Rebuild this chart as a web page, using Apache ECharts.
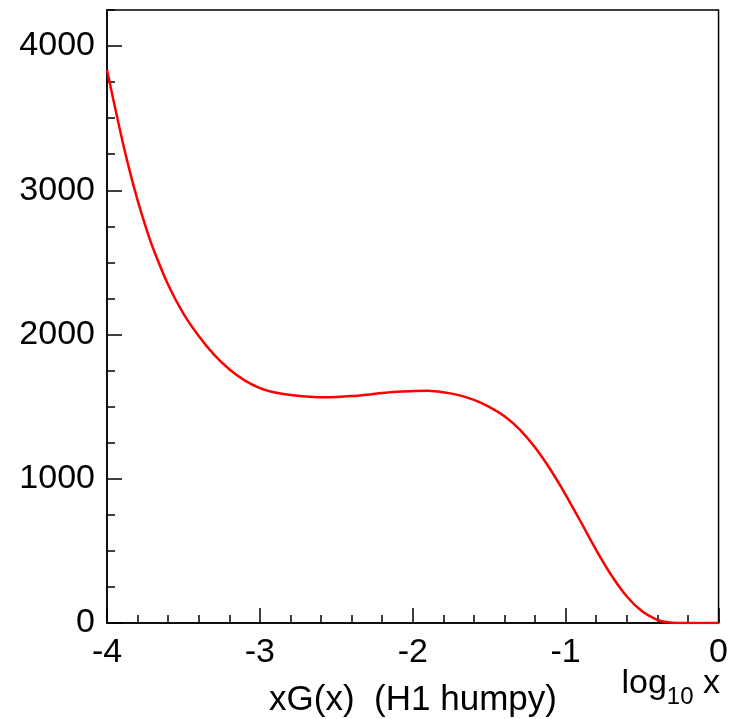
<!DOCTYPE html>
<html>
<head>
<meta charset="utf-8">
<script src="https://cdn.jsdelivr.net/npm/echarts@6/dist/echarts.min.js"></script>
<style>html,body{margin:0;padding:0;background:#fff}#c{width:731px;height:719px}</style>
</head>
<body>
<div id="c"></div>
<script>
const xValues = [-4.0,-3.95,-3.9,-3.85,-3.8,-3.75,-3.7,-3.6,-3.5,-3.4,-3.3,-3.2,-3.1,-3.0,-2.9,-2.8,-2.7,-2.6,-2.5,-2.4,-2.3,-2.2,-2.1,-2.0,-1.9,-1.8,-1.7,-1.6,-1.5,-1.4,-1.3,-1.2,-1.1,-1.0,-0.9,-0.8,-0.7,-0.6,-0.5,-0.4,-0.35,-0.3,-0.25,-0.2,-0.1,0.0];
const yValues = [3835,3586,3347,3128,2932,2757,2602,2345,2145,1990,1861,1759,1682,1629,1598,1580,1570,1565,1567,1573,1583,1595,1603,1609,1611,1600,1580,1547,1499,1433,1340,1216,1064,889,699,506,329,184,81,21,8,2,0,0,0,0];
const xTickLabels = ['-4','-3','-2','-1','0'];
const yTickLabels = ['0','1000','2000','3000','4000'];
const xTitle = 'xG(x)  (H1 humpy)';

const FONT = 'Liberation Sans, Arial, sans-serif';
const FS = 34;
const chart = echarts.init(document.getElementById('c'), null, {renderer: 'canvas'});
const data = xValues.map((x, i) => [x, yValues[i]]);
const gridRect = {left: 107, top: 10, right: 11, bottom: 96};
chart.setOption({
  animation: false,
  grid: [
    Object.assign({show: true, borderColor: '#000', borderWidth: 1.5, backgroundColor: 'transparent'}, gridRect),
    Object.assign({show: false}, gridRect)
  ],
  xAxis: [
    {type: 'value', gridIndex: 0, min: -4, max: 0, interval: 1, position: 'bottom',
     axisLine: {show: true, onZero: false, lineStyle: {color: '#000', width: 1.5}},
     axisTick: {show: true, inside: true, length: 15, lineStyle: {color: '#000', width: 1.5}},
     minorTick: {show: true, splitNumber: 5, length: 8, lineStyle: {color: '#000', width: 1.5}},
     splitLine: {show: false},
     axisLabel: {color: '#000', fontSize: FS, fontFamily: FONT, margin: 13,
       formatter: v => xTickLabels[Math.round(v + 4)]}},
    {type: 'value', gridIndex: 1, min: -4, max: 0, show: false, axisLine: {onZero: false}}
  ],
  yAxis: [
    {type: 'value', gridIndex: 0, min: 0, max: 4250, interval: 1000, position: 'left',
     axisLine: {show: true, onZero: false, lineStyle: {color: '#000', width: 1.5}},
     axisTick: {show: true, inside: true, length: 15, lineStyle: {color: '#000', width: 1.5}},
     splitLine: {show: false},
     axisLabel: {color: '#000', fontSize: FS, fontFamily: FONT, margin: 12, showMaxLabel: false,
       formatter: v => (v % 1000 === 0 ? yTickLabels[v / 1000] : '')}},
    {type: 'value', gridIndex: 1, min: 0, max: 4250, interval: 250, position: 'left',
     axisLine: {show: false, onZero: false},
     axisTick: {show: true, inside: true, length: 8, lineStyle: {color: '#000', width: 1.5}},
     splitLine: {show: false},
     axisLabel: {show: false}}
  ],
  series: [{
    type: 'line', data: data, smooth: 0.3, symbol: 'none', xAxisIndex: 0, yAxisIndex: 0,
    lineStyle: {color: '#ff0000', width: 2.5}
  }],
  graphic: [
    {type: 'text', x: 413, y: 718,
     style: {text: xTitle, fill: '#000', font: '35px ' + FONT, textAlign: 'center', textVerticalAlign: 'bottom'}},
    {type: 'text', x: 720, y: 701,
     style: {text: '{a|log}{b|10}{a| x}', textAlign: 'right', textVerticalAlign: 'bottom',
       rich: {a: {fontSize: FS, fontFamily: FONT, fill: '#000', color: '#000', verticalAlign: 'bottom'},
              b: {fontSize: 24, fontFamily: FONT, fill: '#000', color: '#000', verticalAlign: 'bottom', padding: [0, 0, -8, 0]}}}}
  ]
});
</script>
</body>
</html>
